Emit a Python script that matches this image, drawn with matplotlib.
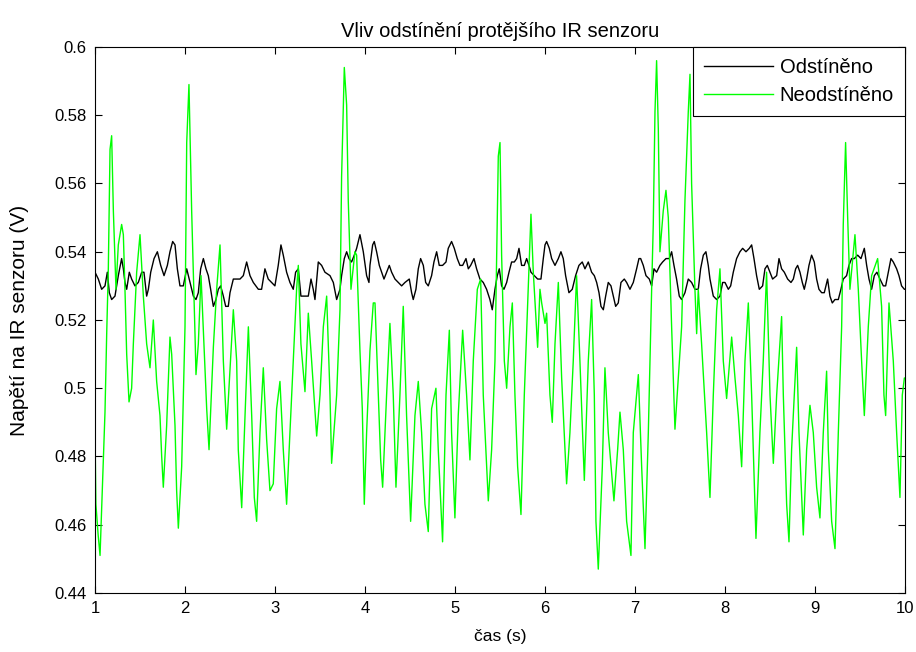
import matplotlib
matplotlib.use("Agg")
import matplotlib.pyplot as plt

# ---- data ----
t_black = [1.000, 1.037, 1.074, 1.111, 1.137, 1.159, 1.185, 1.222, 1.259, 1.296, 1.315, 1.333, 1.352,
           1.381, 1.407, 1.444, 1.481, 1.519, 1.544, 1.574, 1.593, 1.619, 1.656, 1.693, 1.730, 1.767,
           1.804, 1.833, 1.863, 1.889, 1.915, 1.944, 1.981, 2.019, 2.056, 2.093, 2.122, 2.148, 2.174,
           2.204, 2.233, 2.259, 2.285, 2.315, 2.344, 2.370, 2.396, 2.426, 2.452, 2.481, 2.500, 2.537,
           2.574, 2.611, 2.648, 2.685, 2.722, 2.759, 2.815, 2.851, 2.888, 2.925, 2.962, 2.999, 3.036,
           3.066, 3.092, 3.129, 3.166, 3.203, 3.229, 3.259, 3.288, 3.325, 3.370, 3.400, 3.425, 3.444,
           3.481, 3.518, 3.555, 3.611, 3.648, 3.685, 3.722, 3.740, 3.770, 3.796, 3.822, 3.851, 3.881,
           3.907, 3.944, 3.981, 4.018, 4.044, 4.055, 4.085, 4.103, 4.129, 4.159, 4.185, 4.211, 4.240,
           4.270, 4.296, 4.333, 4.370, 4.407, 4.444, 4.492, 4.518, 4.536, 4.566, 4.592, 4.618, 4.648,
           4.674, 4.703, 4.740, 4.766, 4.796, 4.825, 4.862, 4.900, 4.925, 4.962, 4.992, 5.025, 5.055,
           5.085, 5.122, 5.148, 5.174, 5.211, 5.240, 5.277, 5.314, 5.351, 5.388, 5.414, 5.444, 5.470,
           5.492, 5.518, 5.544, 5.574, 5.600, 5.629, 5.659, 5.685, 5.711, 5.740, 5.770, 5.796, 5.822,
           5.844, 5.881, 5.918, 5.955, 5.981, 6.000, 6.018, 6.048, 6.074, 6.111, 6.148, 6.177, 6.203,
           6.229, 6.266, 6.303, 6.340, 6.377, 6.414, 6.444, 6.481, 6.518, 6.548, 6.574, 6.600, 6.622,
           6.648, 6.674, 6.703, 6.733, 6.759, 6.785, 6.814, 6.844, 6.881, 6.907, 6.944, 6.981, 7.018,
           7.044, 7.063, 7.092, 7.122, 7.159, 7.185, 7.211, 7.240, 7.277, 7.307, 7.344, 7.381, 7.407,
           7.433, 7.462, 7.492, 7.518, 7.555, 7.592, 7.629, 7.666, 7.703, 7.729, 7.759, 7.788, 7.814,
           7.833, 7.870, 7.907, 7.944, 7.974, 8.000, 8.037, 8.063, 8.092, 8.129, 8.166, 8.196, 8.233,
           8.270, 8.296, 8.322, 8.351, 8.381, 8.418, 8.444, 8.470, 8.500, 8.529, 8.574, 8.600, 8.629,
           8.659, 8.696, 8.733, 8.759, 8.785, 8.807, 8.833, 8.859, 8.881, 8.907, 8.933, 8.962, 8.992,
           9.018, 9.044, 9.074, 9.103, 9.140, 9.166, 9.192, 9.222, 9.259, 9.288, 9.314, 9.351, 9.377,
           9.407, 9.437, 9.474, 9.511, 9.548, 9.574, 9.600, 9.629, 9.659, 9.688, 9.722, 9.759, 9.785,
           9.814, 9.844, 9.870, 9.907, 9.933, 9.962, 9.993, 10.000]
v_black = [0.534, 0.532, 0.529, 0.530, 0.534, 0.528, 0.526, 0.527, 0.533, 0.538, 0.535, 0.531, 0.529,
           0.534, 0.532, 0.530, 0.531, 0.534, 0.534, 0.527, 0.529, 0.534, 0.538, 0.540, 0.536, 0.533,
           0.536, 0.540, 0.543, 0.542, 0.535, 0.530, 0.530, 0.535, 0.531, 0.527, 0.526, 0.528, 0.535,
           0.538, 0.535, 0.533, 0.529, 0.524, 0.526, 0.529, 0.530, 0.527, 0.524, 0.524, 0.528, 0.532,
           0.532, 0.532, 0.533, 0.537, 0.533, 0.531, 0.529, 0.529, 0.535, 0.532, 0.531, 0.530, 0.536,
           0.542, 0.539, 0.534, 0.531, 0.529, 0.534, 0.535, 0.527, 0.527, 0.527, 0.532, 0.529, 0.526,
           0.537, 0.536, 0.534, 0.533, 0.531, 0.526, 0.529, 0.533, 0.538, 0.540, 0.538, 0.537, 0.539,
           0.541, 0.545, 0.540, 0.533, 0.531, 0.536, 0.542, 0.543, 0.540, 0.536, 0.534, 0.532, 0.534,
           0.536, 0.534, 0.532, 0.531, 0.530, 0.531, 0.532, 0.528, 0.526, 0.529, 0.535, 0.538, 0.536,
           0.531, 0.530, 0.533, 0.537, 0.540, 0.536, 0.536, 0.537, 0.541, 0.543, 0.541, 0.538, 0.536,
           0.536, 0.538, 0.535, 0.536, 0.538, 0.535, 0.532, 0.531, 0.529, 0.526, 0.523, 0.529, 0.533,
           0.535, 0.530, 0.529, 0.531, 0.534, 0.537, 0.537, 0.538, 0.541, 0.536, 0.536, 0.538, 0.536,
           0.534, 0.533, 0.532, 0.532, 0.538, 0.542, 0.543, 0.541, 0.538, 0.536, 0.538, 0.540, 0.538,
           0.533, 0.528, 0.529, 0.533, 0.536, 0.537, 0.535, 0.537, 0.534, 0.533, 0.531, 0.528, 0.524,
           0.523, 0.527, 0.531, 0.530, 0.527, 0.524, 0.525, 0.531, 0.532, 0.531, 0.529, 0.531, 0.535,
           0.538, 0.538, 0.536, 0.533, 0.532, 0.530, 0.535, 0.534, 0.536, 0.537, 0.538, 0.538, 0.540,
           0.536, 0.532, 0.527, 0.526, 0.528, 0.532, 0.531, 0.529, 0.529, 0.535, 0.539, 0.540, 0.536,
           0.532, 0.527, 0.526, 0.527, 0.531, 0.531, 0.529, 0.530, 0.534, 0.538, 0.540, 0.541, 0.540,
           0.541, 0.542, 0.538, 0.533, 0.529, 0.530, 0.535, 0.536, 0.534, 0.532, 0.533, 0.538, 0.535,
           0.534, 0.532, 0.531, 0.532, 0.535, 0.536, 0.534, 0.531, 0.529, 0.532, 0.536, 0.539, 0.537,
           0.532, 0.529, 0.528, 0.528, 0.532, 0.527, 0.525, 0.526, 0.526, 0.529, 0.532, 0.533, 0.536,
           0.538, 0.538, 0.539, 0.538, 0.541, 0.536, 0.532, 0.529, 0.533, 0.534, 0.532, 0.530, 0.530,
           0.534, 0.538, 0.537, 0.535, 0.533, 0.530, 0.529, 0.529]

t_green = [1.000, 1.010, 1.035, 1.056, 1.093, 1.111, 1.130, 1.148, 1.167, 1.185, 1.204, 1.233, 1.259,
           1.296, 1.315, 1.333, 1.352, 1.378, 1.407, 1.426, 1.463, 1.500, 1.537, 1.574, 1.611, 1.648,
           1.685, 1.722, 1.741, 1.759, 1.796, 1.833, 1.852, 1.889, 1.907, 1.926, 1.963, 2.000, 2.019,
           2.044, 2.074, 2.111, 2.122, 2.148, 2.178, 2.222, 2.241, 2.267, 2.315, 2.352, 2.389, 2.426,
           2.463, 2.537, 2.574, 2.592, 2.630, 2.667, 2.704, 2.741, 2.770, 2.796, 2.833, 2.870, 2.907,
           2.944, 2.981, 3.018, 3.055, 3.092, 3.129, 3.166, 3.203, 3.240, 3.259, 3.288, 3.333, 3.370,
           3.407, 3.463, 3.500, 3.537, 3.574, 3.611, 3.629, 3.685, 3.722, 3.740, 3.770, 3.796, 3.814,
           3.844, 3.888, 3.907, 3.944, 3.970, 3.992, 4.018, 4.055, 4.092, 4.111, 4.148, 4.174, 4.196,
           4.240, 4.277, 4.314, 4.344, 4.388, 4.425, 4.462, 4.507, 4.555, 4.592, 4.629, 4.666, 4.703,
           4.740, 4.788, 4.814, 4.862, 4.900, 4.937, 4.962, 4.999, 5.036, 5.085, 5.129, 5.166, 5.203,
           5.248, 5.285, 5.314, 5.370, 5.407, 5.444, 5.463, 5.481, 5.500, 5.518, 5.548, 5.574, 5.611,
           5.637, 5.666, 5.696, 5.733, 5.770, 5.814, 5.844, 5.870, 5.918, 5.944, 5.963, 6.000, 6.018,
           6.055, 6.081, 6.111, 6.148, 6.185, 6.240, 6.277, 6.314, 6.351, 6.388, 6.437, 6.481, 6.518,
           6.548, 6.566, 6.592, 6.637, 6.666, 6.703, 6.766, 6.807, 6.833, 6.870, 6.907, 6.955, 6.981,
           7.037, 7.074, 7.111, 7.148, 7.185, 7.203, 7.222, 7.240, 7.259, 7.277, 7.314, 7.344, 7.370,
           7.407, 7.444, 7.481, 7.518, 7.555, 7.592, 7.611, 7.629, 7.666, 7.685, 7.703, 7.740, 7.796,
           7.833, 7.870, 7.907, 7.944, 7.981, 8.018, 8.074, 8.111, 8.148, 8.185, 8.222, 8.259, 8.296,
           8.344, 8.388, 8.425, 8.462, 8.500, 8.537, 8.574, 8.629, 8.648, 8.685, 8.711, 8.740, 8.796,
           8.822, 8.870, 8.907, 8.944, 8.981, 9.018, 9.055, 9.092, 9.129, 9.148, 9.185, 9.222, 9.259,
           9.296, 9.314, 9.340, 9.363, 9.388, 9.444, 9.481, 9.518, 9.548, 9.592, 9.629, 9.696, 9.740,
           9.766, 9.785, 9.822, 9.870, 9.907, 9.944, 9.970, 9.993, 10.000]
v_green = [0.487, 0.466, 0.457, 0.451, 0.479, 0.493, 0.516, 0.535, 0.570, 0.574, 0.552, 0.529, 0.542,
           0.548, 0.545, 0.529, 0.510, 0.496, 0.500, 0.513, 0.534, 0.545, 0.527, 0.513, 0.506, 0.520,
           0.502, 0.492, 0.480, 0.471, 0.489, 0.515, 0.510, 0.489, 0.470, 0.459, 0.477, 0.518, 0.572,
           0.589, 0.552, 0.516, 0.504, 0.513, 0.533, 0.506, 0.494, 0.482, 0.512, 0.529, 0.542, 0.508,
           0.488, 0.523, 0.508, 0.482, 0.465, 0.492, 0.518, 0.492, 0.468, 0.461, 0.487, 0.506, 0.485,
           0.470, 0.472, 0.494, 0.502, 0.482, 0.466, 0.487, 0.508, 0.529, 0.536, 0.513, 0.499, 0.522,
           0.508, 0.486, 0.498, 0.518, 0.527, 0.498, 0.478, 0.498, 0.523, 0.562, 0.594, 0.583, 0.555,
           0.529, 0.540, 0.539, 0.511, 0.494, 0.466, 0.487, 0.511, 0.525, 0.525, 0.498, 0.479, 0.471,
           0.498, 0.519, 0.498, 0.471, 0.498, 0.524, 0.492, 0.461, 0.492, 0.502, 0.487, 0.466, 0.458,
           0.494, 0.500, 0.482, 0.455, 0.498, 0.517, 0.487, 0.462, 0.492, 0.517, 0.498, 0.479, 0.508,
           0.529, 0.532, 0.498, 0.467, 0.482, 0.508, 0.539, 0.568, 0.572, 0.539, 0.508, 0.500, 0.518,
           0.525, 0.498, 0.477, 0.463, 0.498, 0.529, 0.551, 0.534, 0.512, 0.529, 0.525, 0.519, 0.522,
           0.498, 0.490, 0.513, 0.531, 0.503, 0.472, 0.487, 0.508, 0.533, 0.508, 0.473, 0.508, 0.526,
           0.498, 0.461, 0.447, 0.477, 0.506, 0.487, 0.467, 0.482, 0.493, 0.482, 0.461, 0.451, 0.487,
           0.504, 0.477, 0.453, 0.487, 0.529, 0.548, 0.581, 0.596, 0.576, 0.540, 0.552, 0.558, 0.550,
           0.518, 0.488, 0.503, 0.518, 0.555, 0.581, 0.592, 0.560, 0.529, 0.516, 0.529, 0.513, 0.487,
           0.468, 0.498, 0.523, 0.535, 0.508, 0.497, 0.515, 0.503, 0.492, 0.477, 0.508, 0.525, 0.498,
           0.456, 0.487, 0.508, 0.534, 0.498, 0.478, 0.498, 0.521, 0.498, 0.466, 0.455, 0.482, 0.512,
           0.487, 0.457, 0.482, 0.495, 0.487, 0.471, 0.462, 0.487, 0.505, 0.482, 0.461, 0.453, 0.487,
           0.518, 0.548, 0.572, 0.550, 0.529, 0.545, 0.529, 0.508, 0.492, 0.518, 0.533, 0.538, 0.524,
           0.498, 0.492, 0.525, 0.508, 0.487, 0.468, 0.498, 0.503, 0.503]

series_labels = ["Odstíněno", "Neodstíněno"]
title_text = "Vliv odstínění protějšího IR senzoru"
x_label = "čas (s)"
y_label = "Napětí na IR senzoru (V)"
x_ticks = [1, 2, 3, 4, 5, 6, 7, 8, 9, 10]
y_ticks = [0.44, 0.46, 0.48, 0.5, 0.52, 0.54, 0.56, 0.58, 0.6]
y_tick_labels = ["0.44", "0.46", "0.48", "0.5", "0.52", "0.54", "0.56", "0.58", "0.6"]

plt.rcParams['font.family'] = ['Liberation Sans', 'DejaVu Sans']

fig = plt.figure(figsize=(9.16, 6.52), dpi=100, facecolor='white')
ax = fig.add_axes([95/916, 1 - 593/652, 810/916, 546/652])

ax.plot(t_black, v_black, color='black', lw=1.0, label=series_labels[0])
ax.plot(t_green, v_green, color='#00ff00', lw=1.0, label=series_labels[1])

ax.set_xlim(1, 10)
ax.set_ylim(0.44, 0.6)
ax.set_xticks(x_ticks)
ax.set_xticklabels([str(v) for v in x_ticks])
ax.set_yticks(y_ticks)
ax.set_yticklabels(y_tick_labels)
ax.tick_params(direction='in', top=True, right=True, length=5, width=0.8, labelsize=12, pad=6)
for s in ax.spines.values():
    s.set_linewidth(0.8)

ax.set_title(title_text, fontsize=14.5, pad=7)
ax.set_xlabel(x_label, fontsize=12.5, labelpad=9)
ax.set_ylabel(y_label, fontsize=15, labelpad=18)

leg = ax.legend(loc='upper right', bbox_to_anchor=(1, 1), borderaxespad=0, fancybox=False,
                shadow=False, framealpha=1, edgecolor='black', fontsize=14.5, handlelength=3.4,
                borderpad=0.55, labelspacing=0.45, handletextpad=0.35)
leg.get_frame().set_linewidth(0.8)

fig.savefig('out.png', dpi=100, facecolor='white')
